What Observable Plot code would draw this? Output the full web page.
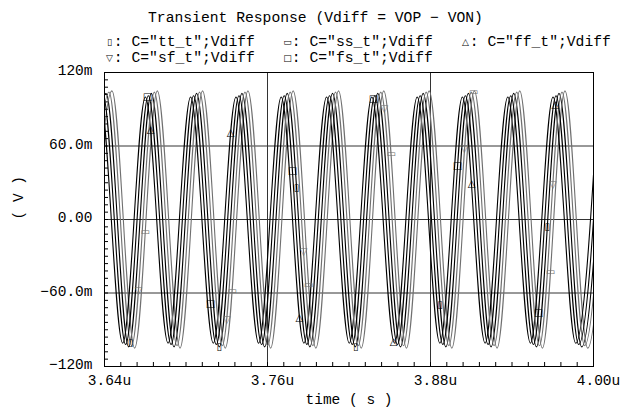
<!DOCTYPE html>
<html><head><meta charset="utf-8">
<script src="https://cdn.jsdelivr.net/npm/d3@7"></script>
<script src="https://cdn.jsdelivr.net/npm/@observablehq/plot@0.6"></script>
<style>
body{margin:0;background:#fff;width:624px;height:407px;overflow:hidden;font-family:"Liberation Mono","DejaVu Sans Mono",monospace;color:#000}
#head{position:relative;height:66px;}
.t{position:absolute;white-space:pre;line-height:1;font-size:14.7px;}
.m{font-family:"DejaVu Sans",sans-serif;font-size:9px;display:inline-block;width:8.85px;text-align:center;vertical-align:1px;}
</style></head><body>
<div id="head"></div>
<div id="chart"></div>
<script>
// ---- data (time in µs, Vdiff in V) ----
const title = "Transient Response (Vdiff = VOP \u2212 VON)";
const seriesNames = ['C="tt_t";Vdiff','C="ss_t";Vdiff','C="ff_t";Vdiff','C="sf_t";Vdiff','C="fs_t";Vdiff'];
const seriesSymbols = ["\u25AF","\u25AD","\u25B3","\u25BD","\u25A1"];
const seriesColors = ["#000000","#707070","#000000","#707070","#000000"];

// extrema (trough / peak) times of each waveform
const ttT = [3.6244,3.6411,3.6578,3.6745,3.6912,3.7078,3.7245,3.7412,3.7579,3.7745,3.7912,3.8079,3.8246,3.8412,3.8579,3.8746,3.8913,3.9079,3.9246,3.9413,3.9580,3.9746,3.9913,4.0080];
const ssT = [3.6288,3.6455,3.6622,3.6789,3.6956,3.7122,3.7289,3.7456,3.7623,3.7789,3.7956,3.8123,3.8290,3.8456,3.8623,3.8790,3.8957,3.9123,3.9290,3.9457,3.9624,3.9790,3.9957,4.0124];
const ffT = [3.6200,3.6367,3.6534,3.6701,3.6868,3.7034,3.7201,3.7368,3.7535,3.7701,3.7868,3.8035,3.8202,3.8368,3.8535,3.8702,3.8869,3.9035,3.9202,3.9369,3.9536,3.9702,3.9869,4.0036];
const sfT = [3.6266,3.6433,3.6600,3.6767,3.6934,3.7100,3.7267,3.7434,3.7601,3.7767,3.7934,3.8101,3.8268,3.8434,3.8601,3.8768,3.8935,3.9101,3.9268,3.9435,3.9602,3.9768,3.9935,4.0102];
const fsT = [3.6222,3.6389,3.6556,3.6723,3.6890,3.7056,3.7223,3.7390,3.7557,3.7723,3.7890,3.8057,3.8224,3.8390,3.8557,3.8724,3.8891,3.9057,3.9224,3.9391,3.9558,3.9724,3.9891,4.0058];

// extrema values (V)
const ttV = [-0.104,0.103,-0.104,0.103,-0.104,0.103,-0.104,0.103,-0.104,0.103,-0.104,0.103,-0.104,0.103,-0.104,0.103,-0.104,0.103,-0.104,0.103,-0.104,0.103,-0.104,0.103];
const ssV = [-0.105,0.105,-0.105,0.105,-0.105,0.105,-0.105,0.105,-0.105,0.105,-0.105,0.105,-0.105,0.105,-0.105,0.105,-0.105,0.105,-0.105,0.105,-0.105,0.105,-0.105,0.105];
const ffV = [-0.101,0.100,-0.101,0.100,-0.101,0.100,-0.101,0.100,-0.101,0.100,-0.101,0.100,-0.101,0.100,-0.101,0.100,-0.101,0.100,-0.101,0.100,-0.101,0.100,-0.101,0.100];
const sfV = [-0.103,0.104,-0.103,0.104,-0.103,0.104,-0.103,0.104,-0.103,0.104,-0.103,0.104,-0.103,0.104,-0.103,0.104,-0.103,0.104,-0.103,0.104,-0.103,0.104,-0.103,0.104];
const fsV = [-0.102,0.101,-0.102,0.101,-0.102,0.101,-0.102,0.101,-0.102,0.101,-0.102,0.101,-0.102,0.101,-0.102,0.101,-0.102,0.101,-0.102,0.101,-0.102,0.101,-0.102,0.101];

// marker times on each waveform (µs)
const ttMk = [3.6591,3.7245,3.7814,3.8250,3.8870,3.9660];
const ssMk = [3.6700,3.7340,3.7902,3.8510,3.9117,3.9684];
const ffMk = [3.6739,3.7328,3.7835,3.8528,3.9102,3.9720];
const sfMk = [3.6650,3.7300,3.7865,3.8460,3.9050,3.9700];
const fsMk = [3.6717,3.7180,3.7784,3.8380,3.8999,3.9595];

// axes
const xTicks = [3.64,3.76,3.88,4.00];
const xTickLabels = ["3.64u","3.76u","3.88u","4.00u"];
const yTicks = [0.12,0.06,0,-0.06,-0.12];
const yTickLabels = ["120m","60.0m","0.00","\u221260.0m","\u2212120m"];
const xLabel = "time ( s )";
const yLabel = "( V )";

// ---- build ----
const Ts=[ttT,ssT,ffT,sfT,fsT], Vs=[ttV,ssV,ffV,sfV,fsV], Mks=[ttMk,ssMk,ffMk,sfMk,fsMk];
const rows=[]; Ts.forEach((T,k)=>T.forEach((t,i)=>rows.push({s:k,t,v:Vs[k][i]})));
function evalAt(T,V,t){for(let i=0;i<T.length-1;i++){if(t>=T[i]&&t<=T[i+1]){const s=(t-T[i])/(T[i+1]-T[i]);return V[i]+(V[i+1]-V[i])*(3*s*s-2*s*s*s);}}return NaN;}
const mrows=[]; Mks.forEach((M,k)=>M.forEach(t=>mrows.push({s:k,t,v:evalAt(Ts[k],Vs[k],t),sym:seriesSymbols[k]})));

const head=document.getElementById("head");
const tt=document.createElement("div");tt.className="t";tt.style.left="148px";tt.style.top="11px";tt.textContent=title;head.appendChild(tt);
const legPos=[[105,35],[283,35],[461,35],[105,51],[283,51]];
seriesNames.forEach((n,k)=>{const el=document.createElement("div");el.className="t";el.style.left=legPos[k][0]+"px";el.style.top=legPos[k][1]+"px";
 const m=document.createElement("span");m.className="m";m.textContent=seriesSymbols[k];
 const s=document.createElement("span");s.textContent=": "+n;el.appendChild(m);el.appendChild(s);head.appendChild(el);});

const fmtX=d=>xTickLabels[xTicks.findIndex(v=>Math.abs(v-d)<1e-9)];
const fmtY=d=>yTickLabels[yTicks.findIndex(v=>Math.abs(v-d)<1e-9)];

const chart=Plot.plot({
  width:624,height:341,marginTop:6,marginBottom:41,marginLeft:104,marginRight:31,
  x:{domain:[3.64,4.0]}, y:{domain:[-0.12,0.12]},
  style:{fontFamily:"'Liberation Mono','DejaVu Sans Mono',monospace",fontSize:"14.5px",color:"#000",background:"#fff",overflow:"visible"},
  marks:[
    Plot.ruleY([0.06,0,-0.06],{stroke:"#333"}),
    Plot.ruleX([3.76,3.88],{stroke:"#333"}),
    Plot.tickX(d3.range(3.64,4.0005,0.012),{x:d=>d,insetTop:290,stroke:"#000"}),
    Plot.tickY(d3.range(-0.12,0.12005,0.006),{y:d=>d,insetRight:485,stroke:"#000"}),
    Plot.line(rows,{x:"t",y:"v",z:"s",stroke:d=>seriesColors[d.s],curve:"monotone-x",strokeWidth:1.1,clip:true}),
    Plot.text(mrows,{x:"t",y:"v",text:"sym",fill:d=>seriesColors[d.s],fontSize:10,fontFamily:"DejaVu Sans",clip:true}),
    Plot.frame({stroke:"#000"}),
    Plot.axisX({ticks:xTicks,tickSize:0,tickPadding:8,tickFormat:fmtX,label:null,dx:5,fontSize:14.5}),
    Plot.axisY({ticks:yTicks,tickSize:0,tickPadding:12,tickFormat:fmtY,label:null,dy:-2,fontSize:14.5}),
    Plot.text([xLabel],{frameAnchor:"bottom",dy:33,lineAnchor:"middle",text:d=>d,fontSize:14.5}),
    Plot.text([yLabel],{frameAnchor:"left",dx:-86,rotate:-90,text:d=>d,fontSize:14.5})
  ]
});
document.getElementById("chart").appendChild(chart);
</script>
</body></html>
